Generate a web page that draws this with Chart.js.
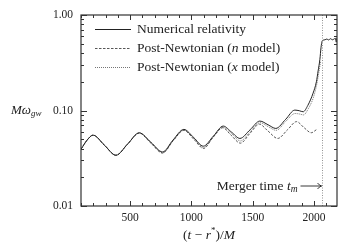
<!DOCTYPE html>
<html><head><meta charset="utf-8">
<script src="https://cdn.jsdelivr.net/npm/chart.js@4"></script>
<style>html,body{margin:0;padding:0;background:#fff}</style>
</head><body>
<canvas id="c" width="353" height="247"></canvas>
<script>
// ---- data ----
const nrTime = [100,150,198,290,385,480,575,670,766,850,939,1020,1097,1180,1260,1330,1396,1480,1559,1625,1689,1770,1844,1880,1912,1950,1993,2020,2034,2048,2058,2066,2075,2090,2105,2120,2135,2150,2165,2175,2182,2188];
const nrFreq = [0.0393,0.049,0.0552,0.0435,0.034,0.0445,0.0584,0.0465,0.0368,0.049,0.0634,0.052,0.0423,0.054,0.0687,0.059,0.051,0.063,0.0775,0.071,0.0649,0.081,0.101,0.0995,0.097,0.113,0.152,0.20,0.26,0.34,0.46,0.53,0.545,0.55,0.56,0.548,0.565,0.55,0.562,0.57,0.52,0.58];

const pnNTime = [100,150,198,290,385,480,575,670,766,850,939,1020,1100,1175,1255,1325,1400,1480,1555,1625,1705,1785,1858,1920,1978,2020];
const pnNFreq = [0.0393,0.049,0.0552,0.0435,0.034,0.0445,0.058,0.0455,0.0358,0.048,0.062,0.050,0.0400,0.052,0.066,0.055,0.0455,0.058,0.0719,0.061,0.051,0.063,0.0765,0.066,0.0585,0.063];

const pnXTime = [100,150,198,290,385,480,575,670,766,850,939,1020,1100,1180,1260,1330,1400,1480,1559,1625,1692,1770,1846,1880,1915,1955,1993,2020,2040,2055];
const pnXFreq = [0.0393,0.049,0.0552,0.0435,0.034,0.0445,0.0582,0.046,0.0362,0.048,0.0625,0.051,0.041,0.053,0.0665,0.057,0.048,0.060,0.0745,0.068,0.062,0.077,0.093,0.092,0.090,0.105,0.134,0.18,0.25,0.33];

const seriesLabels = ['Numerical relativity','Post-Newtonian (n model)','Post-Newtonian (x model)'];
const xTicks = [500,1000,1500,2000];
const yTicks = [0.01,0.1,1];
const yTickLabels = ['0.01','0.10','1.00'];
const xRange = [100,2188];
const yRange = [0.01,1];
const mergerTime = 2062;

const SERIF = '"Liberation Serif", "Times New Roman", serif';
const FS = 13.5;

function pts(t, v){ return t.map((x,i)=>({x:x, y:v[i]})); }

// draw text where single-letter math symbols are italic
function drawMixed(ctx, segs, x, y){
  segs.forEach(s=>{
    ctx.font = (s.it?'italic ':'') + (s.size||FS) + 'px ' + SERIF;
    ctx.fillText(s.t, x, y + (s.dy||0));
    x += ctx.measureText(s.t).width;
  });
  return x;
}
function widthMixed(ctx, segs){
  let w = 0;
  segs.forEach(s=>{ ctx.font = (s.it?'italic ':'') + (s.size||FS) + 'px ' + SERIF; w += ctx.measureText(s.t).width; });
  return w;
}
function labelSegs(lbl){
  const m = lbl.match(/^(.*\()(\w)( model\))$/);
  if (!m) return [{t:lbl}];
  return [{t:m[1]},{t:m[2],it:true},{t:m[3]}];
}

const decor = {
  id:'decor',
  afterDraw(chart){
    const ctx = chart.ctx, a = chart.chartArea;
    const xs = chart.scales.x, ys = chart.scales.y;
    ctx.save();
    // merger line
    const mx = Math.round(xs.getPixelForValue(mergerTime))+0.5;
    ctx.strokeStyle = '#777'; ctx.lineWidth = 0.8; ctx.setLineDash([1,1.5]);
    ctx.beginPath(); ctx.moveTo(mx,a.top); ctx.lineTo(mx,a.bottom); ctx.stroke();
    ctx.setLineDash([]);
    // frame
    ctx.strokeStyle = '#333'; ctx.lineWidth = 1.2;
    ctx.strokeRect(a.left, a.top, a.right-a.left, a.bottom-a.top);
    // ticks
    ctx.lineWidth = 1;
    ctx.beginPath();
    for (let v=100; v<=xRange[1]; v+=100){
      const px = Math.round(xs.getPixelForValue(v))+0.5;
      const L = (v%500===0)?5:3;
      ctx.moveTo(px,a.bottom); ctx.lineTo(px,a.bottom-L);
      ctx.moveTo(px,a.top); ctx.lineTo(px,a.top+L);
    }
    for (let d=0.01; d<1; d*=10){
      for (let k=1;k<=10;k++){
        const v = d*k;
        const py = Math.round(ys.getPixelForValue(v))+0.5;
        const L = (k===1||k===10)?6:3;
        ctx.moveTo(a.left,py); ctx.lineTo(a.left+L,py);
        ctx.moveTo(a.right,py); ctx.lineTo(a.right-L,py);
      }
    }
    ctx.stroke();
    // legend
    ctx.fillStyle = '#222';
    ctx.textBaseline = 'middle';
    ctx.textAlign = 'left';
    chart.data.datasets.forEach((ds,i)=>{
      const y = 29.5 + i*19;
      ctx.strokeStyle = ds.borderColor; ctx.lineWidth = ds.borderWidth;
      ctx.setLineDash(ds.borderDash||[]);
      ctx.beginPath(); ctx.moveTo(95,y); ctx.lineTo(131,y); ctx.stroke();
      ctx.setLineDash([]);
      drawMixed(ctx, labelSegs(ds.label), 137, y);
    });
    // annotation
    const ay = 186;
    ctx.strokeStyle = '#222'; ctx.lineWidth = 0.9;
    ctx.beginPath(); ctx.moveTo(mx-22, ay); ctx.lineTo(mx-1, ay); ctx.stroke();
    ctx.beginPath(); ctx.moveTo(mx-5, ay-3); ctx.quadraticCurveTo(mx-3,ay-0.5,mx-1,ay); ctx.quadraticCurveTo(mx-3,ay+0.5,mx-5,ay+3); ctx.stroke();
    const ann = [{t:'Merger time '},{t:'t',it:true},{t:'m',it:true,size:9.5,dy:3}];
    drawMixed(ctx, ann, mx - 25 - widthMixed(ctx, ann), ay);
    // y title
    const ty = ys.getPixelForValue(0.1);
    drawMixed(ctx, [{t:'M',it:true,size:13},{t:'ω',it:true,size:13},{t:'gw',it:true,size:9,dy:3.5}], 11, ty);
    // x title
    const xt = [{t:'('},{t:'t',it:true},{t:' − '},{t:'r',it:true},{t:'*',size:9,dy:-4},{t:')/'},{t:'M',it:true}];
    drawMixed(ctx, xt, (a.left+a.right)/2 - widthMixed(ctx, xt)/2, 235);
    ctx.restore();
  }
};

new Chart(document.getElementById('c'), {
  type:'line',
  data:{ datasets:[
    {label:seriesLabels[0], data:pts(nrTime,nrFreq), borderColor:'#222', borderWidth:1, borderDash:[], pointRadius:0, cubicInterpolationMode:'monotone', fill:false},
    {label:seriesLabels[1], data:pts(pnNTime,pnNFreq), borderColor:'#444', borderWidth:0.9, borderDash:[2.5,1.5], pointRadius:0, cubicInterpolationMode:'monotone', fill:false},
    {label:seriesLabels[2], data:pts(pnXTime,pnXFreq), borderColor:'#666', borderWidth:0.9, borderDash:[1,1], pointRadius:0, cubicInterpolationMode:'monotone', fill:false}
  ]},
  options:{
    responsive:false, animation:false, devicePixelRatio:1,
    layout:{padding:{left:0,right:16,top:15,bottom:0}},
    plugins:{legend:{display:false}, tooltip:{enabled:false}},
    scales:{
      x:{type:'linear', min:xRange[0], max:xRange[1],
         afterBuildTicks:s=>{s.ticks = xTicks.map(v=>({value:v}));},
         afterFit:s=>{s.height = 41;},
         grid:{display:false, drawTicks:false}, border:{display:false},
         ticks:{padding:5, color:'#222', font:{family:SERIF,size:11.5}, maxRotation:0, callback:v=>String(v)}},
      y:{type:'logarithmic', min:yRange[0], max:yRange[1],
         afterBuildTicks:s=>{s.ticks = yTicks.map(v=>({value:v}));},
         afterFit:s=>{s.width = 81;},
         grid:{display:false, drawTicks:false}, border:{display:false},
         ticks:{padding:8, color:'#222', font:{family:SERIF,size:11.5}, callback:(v)=>{const i=yTicks.findIndex(t=>Math.abs(t-v)<1e-9); return i>=0?yTickLabels[i]:'';}}}
    }
  },
  plugins:[decor]
});
</script>
</body></html>
